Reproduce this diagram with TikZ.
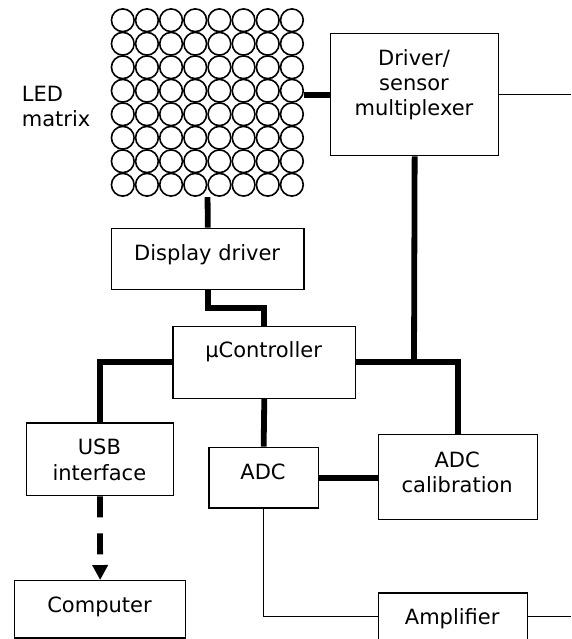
\documentclass[tikz,border=0pt]{standalone}
\usepackage{fontspec}
\setmainfont{DejaVu Sans}
\usetikzlibrary{arrows.meta,calc}
\tikzset{
  box/.style={draw, line width=1.3pt, inner sep=0pt, anchor=north west},
  txt/.style={inner sep=0pt, align=center, font=\fontsize{21pt}{25.3pt}\selectfont},
  bus/.style={line width=5.8pt},
  wire/.style={line width=1.3pt},
  led/.style={line width=1.6pt},
}
\begin{document}
\begin{tikzpicture}[x=1pt,y=-1pt]
\useasboundingbox (0,0) rectangle (571,639);
% LED matrix
\node[inner sep=0pt, minimum width=193.3pt, minimum height=188.2pt, anchor=north west] (mtx) at (110.7,8.5) {};
\foreach \i in {0,...,7}{
  \foreach \j in {0,...,7}{
    \draw[led] ({122.78+24.16*\i},{20.25+23.5*\j}) circle[radius=11.35pt];
  }
}
\node[txt, align=left, anchor=base west] (ledt) at (21.7,127) {LED\\matrix};
% boxes
\node[box, minimum width=168pt, minimum height=122pt] (drv) at (330,33) {};
\node[box, minimum width=192.3pt, minimum height=61.3pt] (dd) at (111,227.7) {};
\node[box, minimum width=182.7pt, minimum height=72pt] (mc) at (172.3,325.7) {};
\node[box, minimum width=146.7pt, minimum height=72.7pt] (usb) at (26,422.3) {};
\node[box, minimum width=109.4pt, minimum height=60.6pt] (adc) at (208.3,446.7) {};
\node[box, minimum width=159pt, minimum height=85pt] (cal) at (377.7,434) {};
\node[box, minimum width=171pt, minimum height=57.3pt] (comp) at (14,580) {};
\node[box, minimum width=149pt, minimum height=47.4pt] (amp) at (377.7,592.3) {};
% texts
\node[txt, anchor=base] (drvt) at (414,116) {Driver/\\sensor\\multiplexer};
\node[txt, anchor=base] (ddt) at (207.15,260) {Display driver};
\node[txt, anchor=base] (mct) at (263.6,357.3) {µController};
\node[txt, anchor=base] (usbt) at (99.35,480) {USB\\interface};
\node[txt, anchor=base] (adct) at (263,479.3) {ADC};
\node[txt, anchor=base] (calt) at (457.2,492.3) {ADC\\calibration};
\node[txt, anchor=base] (compt) at (99.5,612.3) {Computer};
\node[txt, anchor=base] (ampt) at (452.2,624) {Amplifier};
% free ends
\coordinate (e1) at (571,94);
\coordinate (e2) at (571,616);
\coordinate (jn) at (414,361.7);
% connectors
\draw[bus] (drv.west) -- (drv.west -| mtx.east);
\draw[bus] (mtx.south) -- (dd.north);
\draw[bus] (dd.south) -- ++(0,17.7) -| (mc.north);
\draw[bus] (mc.west) -| (usb.north);
\draw[bus] (mc.east) -| (cal.north);
\draw[bus] (drv.south) -- (jn);
\draw[bus] (mc.south) -- (adc.north);
\draw[bus] (adc.east) -- (adc.east -| cal.west);
\draw[bus, dash pattern=on 21pt off 16pt, -{Triangle[length=15pt,width=15pt]}] (usb.south) -- (comp.north);
\draw[wire] (drv.east) -- (drv.east -| e1);
\draw[wire] (adc.south) |- (amp.west);
\draw[wire] (amp.east) -- (amp.east -| e2);
\end{tikzpicture}
\end{document}
